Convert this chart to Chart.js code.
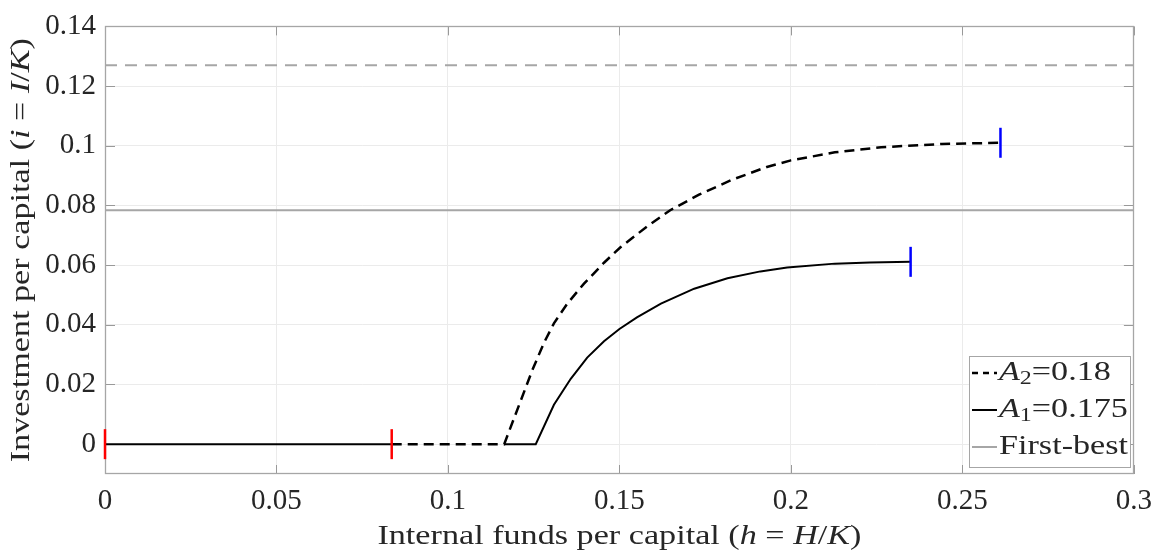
<!DOCTYPE html>
<html>
<head>
<meta charset="utf-8">
<script src="https://cdn.jsdelivr.net/npm/chart.js@4"></script>
<style>
  body { margin: 0; background: #fff; }
</style>
</head>
<body>
<canvas id="invest" width="1162" height="554"></canvas>
<script>
// A2 = 0.18 (dashed)
const hA2 = [0.0836, 0.1164, 0.1212, 0.1246, 0.1280, 0.1309, 0.1348, 0.1396, 0.1455, 0.1503, 0.1580, 0.1648, 0.1732, 0.1826, 0.1930, 0.2000, 0.2128, 0.2263, 0.2440, 0.2611];
const iA2 = [0, 0, 0.0145, 0.0248, 0.0340, 0.0405, 0.0471, 0.0537, 0.0608, 0.0660, 0.0729, 0.0784, 0.0836, 0.0885, 0.0929, 0.0951, 0.0978, 0.0995, 0.1006, 0.1010];
// A1 = 0.175 (solid), null = gap in the line
const hA1 = [0, 0.0836, 0.1000, 0.1164, 0.1256, 0.1309, 0.1358, 0.1406, 0.1455, 0.1500, 0.1551, 0.1621, 0.1718, 0.1815, 0.1911, 0.1989, 0.2128, 0.2230, 0.2349];
const iA1 = [0, 0, null, 0, 0, 0.0132, 0.0219, 0.0290, 0.0345, 0.0386, 0.0425, 0.0471, 0.0521, 0.0556, 0.0579, 0.0592, 0.0605, 0.0609, 0.0611];
const firstBest = 0.0784;
const upperLevel = 0.127;
const xRange = [0, 0.3];
const redMarksH = [0, 0.0836];
const redMarksI = [0, 0];
const blueMarksH = [0.2611, 0.2349];
const blueMarksI = [0.1010, 0.0611];
const xTicks = [0, 0.05, 0.1, 0.15, 0.2, 0.25, 0.3];
const yTicks = [0, 0.02, 0.04, 0.06, 0.08, 0.1, 0.12, 0.14];

const FONT = "'Liberation Serif', serif";
const TXT = '#262626';
const STRETCH = 1.22; // computer modern is wider than times

function pts(xs, ys) { return xs.map(function (x, k) { return { x: x, y: ys[k] }; }); }

function richWidth(ctx, parts, size) {
    let w = 0;
    parts.forEach(function (p) {
        ctx.font = (p.it ? 'italic ' : '') + (p.sub ? size * 0.7 : size) + 'px ' + FONT;
        w += ctx.measureText(p.t).width;
    });
    return w * STRETCH;
}
function drawRich(ctx, parts, x, y, size) {
    ctx.save();
    ctx.translate(x, y);
    ctx.scale(STRETCH, 1);
    let cx = 0;
    parts.forEach(function (p) {
        ctx.font = (p.it ? 'italic ' : '') + (p.sub ? size * 0.7 : size) + 'px ' + FONT;
        ctx.fillText(p.t, cx, p.sub ? size * 0.22 : 0);
        cx += ctx.measureText(p.t).width;
    });
    ctx.restore();
}

const xTitle = [{ t: 'Internal funds per capital (' }, { t: 'h', it: true }, { t: ' = ' }, { t: 'H', it: true }, { t: '/' }, { t: 'K', it: true }, { t: ')' }];
const yTitle = [{ t: 'Investment per capital (' }, { t: 'i', it: true }, { t: ' = ' }, { t: 'I', it: true }, { t: '/' }, { t: 'K', it: true }, { t: ')' }];
const legendRows = [
    { parts: [{ t: 'A', it: true }, { t: '2', sub: true }, { t: '=0.18' }], color: '#000', dash: [6, 5], width: 2.5 },
    { parts: [{ t: 'A', it: true }, { t: '1', sub: true }, { t: '=0.175' }], color: '#000', dash: [], width: 2 },
    { parts: [{ t: 'First-best' }], color: '#a6a6a6', dash: [], width: 2 }
];

const framePlugin = {
    id: 'frame',
    beforeDatasetsDraw(chart) {
        const ctx = chart.ctx, a = chart.chartArea, sx = chart.scales.x, sy = chart.scales.y;
        ctx.save();
        ctx.strokeStyle = '#999999';
        ctx.lineWidth = 1;
        ctx.beginPath();
        sx.ticks.forEach(function (t) {
            const px = Math.round(sx.getPixelForValue(t.value)) + 0.5;
            ctx.moveTo(px, a.bottom); ctx.lineTo(px, a.bottom - 9);
            ctx.moveTo(px, a.top); ctx.lineTo(px, a.top + 9);
        });
        sy.ticks.forEach(function (t) {
            const py = Math.round(sy.getPixelForValue(t.value)) + 0.5;
            ctx.moveTo(a.left, py); ctx.lineTo(a.left + 10, py);
            ctx.moveTo(a.right, py); ctx.lineTo(a.right - 10, py);
        });
        ctx.stroke();
        ctx.strokeStyle = '#a6a6a6';
        ctx.lineWidth = 1.3;
        ctx.strokeRect(Math.round(a.left) + 0.5, Math.round(a.top) + 0.5, Math.round(a.width) - 1, Math.round(a.height) - 1);
        ctx.restore();
    },
    afterDraw(chart) {
        const ctx = chart.ctx, a = chart.chartArea;
        const size = 28;
        ctx.save();
        ctx.fillStyle = TXT;
        ctx.textBaseline = 'middle';
        // axis titles
        let w = richWidth(ctx, xTitle, size);
        drawRich(ctx, xTitle, (a.left + a.right) / 2 - w / 2, 537, size);
        ctx.save();
        ctx.translate(22, (a.top + a.bottom) / 2);
        ctx.rotate(-Math.PI / 2);
        w = richWidth(ctx, yTitle, size);
        drawRich(ctx, yTitle, -w / 2, 0, size);
        ctx.restore();
        // legend box
        const bx = 969, by = 356, bw = 161, bh = 111;
        ctx.fillStyle = '#ffffff';
        ctx.fillRect(bx, by, bw, bh);
        ctx.strokeStyle = '#a6a6a6';
        ctx.lineWidth = 1;
        ctx.strokeRect(bx + 0.5, by + 0.5, bw, bh);
        legendRows.forEach(function (r, k) {
            const ry = by + 17 + k * 37;
            ctx.strokeStyle = r.color;
            ctx.lineWidth = r.width;
            ctx.setLineDash(r.dash);
            ctx.beginPath();
            ctx.moveTo(bx + 3, ry); ctx.lineTo(bx + 28, ry);
            ctx.stroke();
            ctx.setLineDash([]);
            ctx.fillStyle = TXT;
            drawRich(ctx, r.parts, bx + 30, ry, size);
        });
        ctx.restore();
    }
};

function fmt(v) { return String(Number(v.toFixed(2))); }

new Chart(document.getElementById('invest'), {
    type: 'line',
    data: {
        datasets: [
            { label: 'tick-red', data: pts(redMarksH, redMarksI), showLine: false, pointStyle: 'line', rotation: 90,
              pointRadius: 15, borderColor: '#ff0000', pointBorderWidth: 2.5, clip: false, order: 0 },
            { label: 'tick-blue', data: pts(blueMarksH, blueMarksI), showLine: false, pointStyle: 'line', rotation: 90,
              pointRadius: 15, borderColor: '#0000ff', pointBorderWidth: 2.5, clip: false, order: 0 },
            { label: 'A2=0.18', data: pts(hA2, iA2), borderColor: '#000', borderWidth: 2.5, borderDash: [10, 6],
              pointRadius: 0, tension: 0, order: 2 },
            { label: 'A1=0.175', data: pts(hA1, iA1), borderColor: '#000', borderWidth: 2, pointRadius: 0,
              tension: 0, spanGaps: false, order: 1 },
            { label: 'First-best', data: pts(xRange, [firstBest, firstBest]), borderColor: '#a6a6a6', borderWidth: 2,
              pointRadius: 0, order: 3 },
            { label: 'upper', data: pts(xRange, [upperLevel, upperLevel]), borderColor: '#a6a6a6', borderWidth: 2,
              borderDash: [12, 8], pointRadius: 0, order: 3 }
        ]
    },
    options: {
        responsive: false,
        animation: false,
        layout: { padding: { top: 16, right: 25, left: 0, bottom: 0 } },
        plugins: { legend: { display: false }, tooltip: { enabled: false } },
        scales: {
            x: {
                type: 'linear', min: 0, max: 0.3,
                afterFit: function (s) { s.height = 80; },
                afterBuildTicks: function (s) { s.ticks = xTicks.map(function (v) { return { value: v }; }); },
                grid: { color: '#ebebeb', drawTicks: false },
                border: { display: false },
                ticks: { padding: 10, color: TXT, font: { family: FONT, size: 29 }, callback: fmt }
            },
            y: {
                min: -0.01, max: 0.14,
                afterFit: function (s) { s.width = 105; },
                afterBuildTicks: function (s) { s.ticks = yTicks.map(function (v) { return { value: v }; }); },
                grid: { color: '#ebebeb', drawTicks: false },
                border: { display: false },
                ticks: { padding: 9, color: TXT, font: { family: FONT, size: 29 }, callback: fmt }
            }
        }
    },
    plugins: [framePlugin]
});
</script>
</body>
</html>
